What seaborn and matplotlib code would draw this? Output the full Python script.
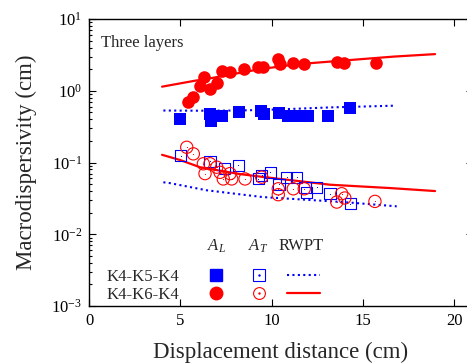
import numpy as np
import pandas as pd
import matplotlib
matplotlib.use("Agg")
import matplotlib.pyplot as plt
from matplotlib.lines import Line2D
from matplotlib.ticker import FixedLocator, LogLocator, FuncFormatter, NullFormatter
import seaborn as sns

# ---------------- data ----------------
# A_L, K4-K5-K4 (filled squares)
al_k5_x = [5.0, 6.6, 6.7, 7.3, 8.2, 9.4, 9.6, 10.4, 10.9, 11.5, 12.0, 13.1, 14.3]
al_k5_y = [0.41, 0.48, 0.38, 0.44, 0.51, 0.53, 0.48, 0.49, 0.45, 0.44, 0.44, 0.44, 0.57]
# A_L, K4-K6-K4 (filled circles)
al_k6_x = [5.43, 5.71, 6.06, 6.28, 6.62, 6.99, 7.28, 7.74, 8.48, 9.25, 9.55, 10.36, 10.45,
           11.16, 11.78, 13.59, 13.94, 15.69]
al_k6_y = [0.69, 0.83, 1.18, 1.53, 1.06, 1.30, 1.90, 1.85, 2.0, 2.11, 2.15, 2.74, 2.35,
           2.41, 2.37, 2.53, 2.42, 2.45]
# A_T, K4-K5-K4 (open squares)
at_k5_x = [5.02, 6.62, 7.44, 8.17, 9.27, 9.45, 9.91, 10.4, 10.82, 11.37, 11.82, 11.9, 12.46,
           13.19, 14.29]
at_k5_y = [0.125, 0.104, 0.082, 0.091, 0.059, 0.066, 0.073, 0.050, 0.0625, 0.0625, 0.0454,
           0.038, 0.0454, 0.0367, 0.0267]
# A_T, K4-K6-K4 (open circles)
at_k6_x = [5.35, 5.71, 6.26, 6.62, 6.35, 6.99, 7.17, 7.35, 7.72, 7.81, 8.54, 9.45, 10.36,
           10.36, 11.18, 11.78, 13.83, 13.56, 14.0, 15.65]
at_k6_y = [0.163, 0.132, 0.096, 0.096, 0.070, 0.086, 0.073, 0.059, 0.070, 0.059, 0.059,
           0.0625, 0.043, 0.0356, 0.043, 0.043, 0.0367, 0.0281, 0.032, 0.0287]
# RWPT curves
rw_al_k5_x = [4.07, 6.0, 8.0, 9.5, 11.0, 13.2, 16.8]
rw_al_k5_y = [0.53, 0.527, 0.53, 0.54, 0.557, 0.586, 0.62]
rw_al_k6_x = [4.0, 5.8, 6.44, 9.36, 11.37, 13.2, 16.66, 18.94]
rw_al_k6_y = [1.14, 1.38, 1.46, 2.0, 2.34, 2.55, 2.99, 3.24]
rw_at_k5_x = [4.07, 4.43, 6.44, 9.5, 14.0, 16.84]
rw_at_k5_y = [0.053, 0.0516, 0.041, 0.033, 0.028, 0.0245]
rw_at_k6_x = [4.0, 5.0, 6.07, 8.26, 9.5, 13.2, 16.5, 18.94]
rw_at_k6_y = [0.128, 0.108, 0.086, 0.069, 0.063, 0.049, 0.044, 0.040]

row_labels = ["K4-K5-K4", "K4-K6-K4"]
col_headers = ["$A_L$", "$A_T$", "RWPT"]
x_ticks = [0, 5, 10, 15, 20]
y_exps = [-3, -2, -1, 0, 1]

# ---------------- style ----------------
sns.set_style("ticks")
plt.rcParams["font.family"] = ["Liberation Serif", "DejaVu Serif"]
plt.rcParams["mathtext.fontset"] = "custom"
plt.rcParams["mathtext.rm"] = "Liberation Serif"
plt.rcParams["mathtext.it"] = "Liberation Serif:italic"
plt.rcParams["mathtext.bf"] = "Liberation Serif:bold"

BLUE = "#0000ff"
RED = "#ff0000"

fig = plt.figure(figsize=(4.67, 3.63), dpi=100)
ax = fig.add_axes([89 / 467, 57 / 363, 383.7 / 467, 287 / 363])

def df(x, y):
    return pd.DataFrame({"x": x, "y": y})

# RWPT lines
sns.lineplot(data=df(rw_al_k6_x, rw_al_k6_y), x="x", y="y", ax=ax, color=RED, lw=1.6,
             sort=False, estimator=None)
sns.lineplot(data=df(rw_at_k6_x, rw_at_k6_y), x="x", y="y", ax=ax, color=RED, lw=1.6,
             sort=False, estimator=None)
sns.lineplot(data=df(rw_al_k5_x, rw_al_k5_y), x="x", y="y", ax=ax, color=BLUE, lw=1.5,
             linestyle=(0, (1, 1.6)), sort=False, estimator=None)
sns.lineplot(data=df(rw_at_k5_x, rw_at_k5_y), x="x", y="y", ax=ax, color=BLUE, lw=1.5,
             linestyle=(0, (1, 1.6)), sort=False, estimator=None)

# markers
sns.scatterplot(data=df(al_k5_x, al_k5_y), x="x", y="y", ax=ax, marker="s", s=75,
                color=BLUE, edgecolor=BLUE, linewidth=0, zorder=3)
sns.scatterplot(data=df(al_k6_x, al_k6_y), x="x", y="y", ax=ax, marker="o", s=82,
                color=RED, edgecolor=RED, linewidth=0, zorder=3)
sns.scatterplot(data=df(at_k5_x, at_k5_y), x="x", y="y", ax=ax, marker="s", s=64,
                facecolor="none", edgecolor=BLUE, linewidth=0.8, zorder=3)
sns.scatterplot(data=df(at_k5_x, at_k5_y), x="x", y="y", ax=ax, marker=".", s=2,
                color=BLUE, edgecolor=BLUE, linewidth=0, zorder=3)
sns.scatterplot(data=df(at_k6_x, at_k6_y), x="x", y="y", ax=ax, marker="o", s=78,
                facecolor="none", edgecolor=RED, linewidth=0.8, zorder=3)
sns.scatterplot(data=df(at_k6_x, at_k6_y), x="x", y="y", ax=ax, marker=".", s=2,
                color=RED, edgecolor=RED, linewidth=0, zorder=3)

# axes
ax.set_yscale("log")
ax.set_xlim(0, 21)
ax.set_ylim(10.0 ** y_exps[0], 10.0 ** y_exps[-1])
ax.xaxis.set_major_locator(FixedLocator(x_ticks))
ax.set_xticklabels([str(t) for t in x_ticks])
ax.yaxis.set_major_locator(FixedLocator([10.0 ** e for e in y_exps]))
ax.yaxis.set_major_formatter(FuncFormatter(lambda v, p: "$10^{%d}$" % int(round(np.log10(v)))))
ax.yaxis.set_minor_locator(LogLocator(base=10, subs=np.arange(2, 10), numticks=20))
ax.yaxis.set_minor_formatter(NullFormatter())
ax.tick_params(which="both", direction="in", top=True, right=True, width=0.8, colors="black")
ax.tick_params(which="major", length=5, labelsize=12, pad=5)
ax.tick_params(which="minor", length=2.5)
for sp in ax.spines.values():
    sp.set_linewidth(1.0)
    sp.set_color("black")

ax.set_xlabel("Displacement distance (cm)", fontsize=16.5, labelpad=9)
ax.set_ylabel("Macrodispersivity (cm)", fontsize=16.5, labelpad=10)

ax.text(0.03, 0.915, "Three layers", transform=ax.transAxes, fontsize=12, va="center", ha="left")

# legend (table style)
h_al = [Line2D([], [], ls="none", marker="s", ms=8.5, mfc=BLUE, mec=BLUE),
        Line2D([], [], ls="none", marker="o", ms=9, mfc=RED, mec=RED)]
leg1 = ax.legend(h_al, row_labels, loc="center left", bbox_to_anchor=(0.046, 0.07),
                 frameon=False, markerfirst=False, handletextpad=1.2, handlelength=2,
                 labelspacing=0.08, borderpad=0, borderaxespad=0, fontsize=12)
ax.add_artist(leg1)
h_rest = [(Line2D([], [], ls="none", marker="s", ms=8, mfc="none", mec=BLUE, mew=0.8),
           Line2D([], [], ls="none", marker=".", ms=1.5, color=BLUE)),
          (Line2D([], [], ls="none", marker="o", ms=8.5, mfc="none", mec=RED, mew=0.8),
           Line2D([], [], ls="none", marker=".", ms=1.5, color=RED)),
          Line2D([], [], color=BLUE, lw=1.5, ls=(0, (1, 1.6))),
          Line2D([], [], color=RED, lw=1.6)]
leg2 = ax.legend(h_rest, ["", "", "", ""], ncol=2, loc="center left",
                 bbox_to_anchor=(0.3995, 0.07), frameon=False, handletextpad=0,
                 handlelength=2, columnspacing=0.68, labelspacing=0.08, borderpad=0,
                 borderaxespad=0, fontsize=12)
for x_h, txt in zip([0.331, 0.440, 0.5525], col_headers):
    ax.text(x_h, 0.209, txt, transform=ax.transAxes, fontsize=12, ha="center", va="center")

fig.savefig("out.png", dpi=100)
